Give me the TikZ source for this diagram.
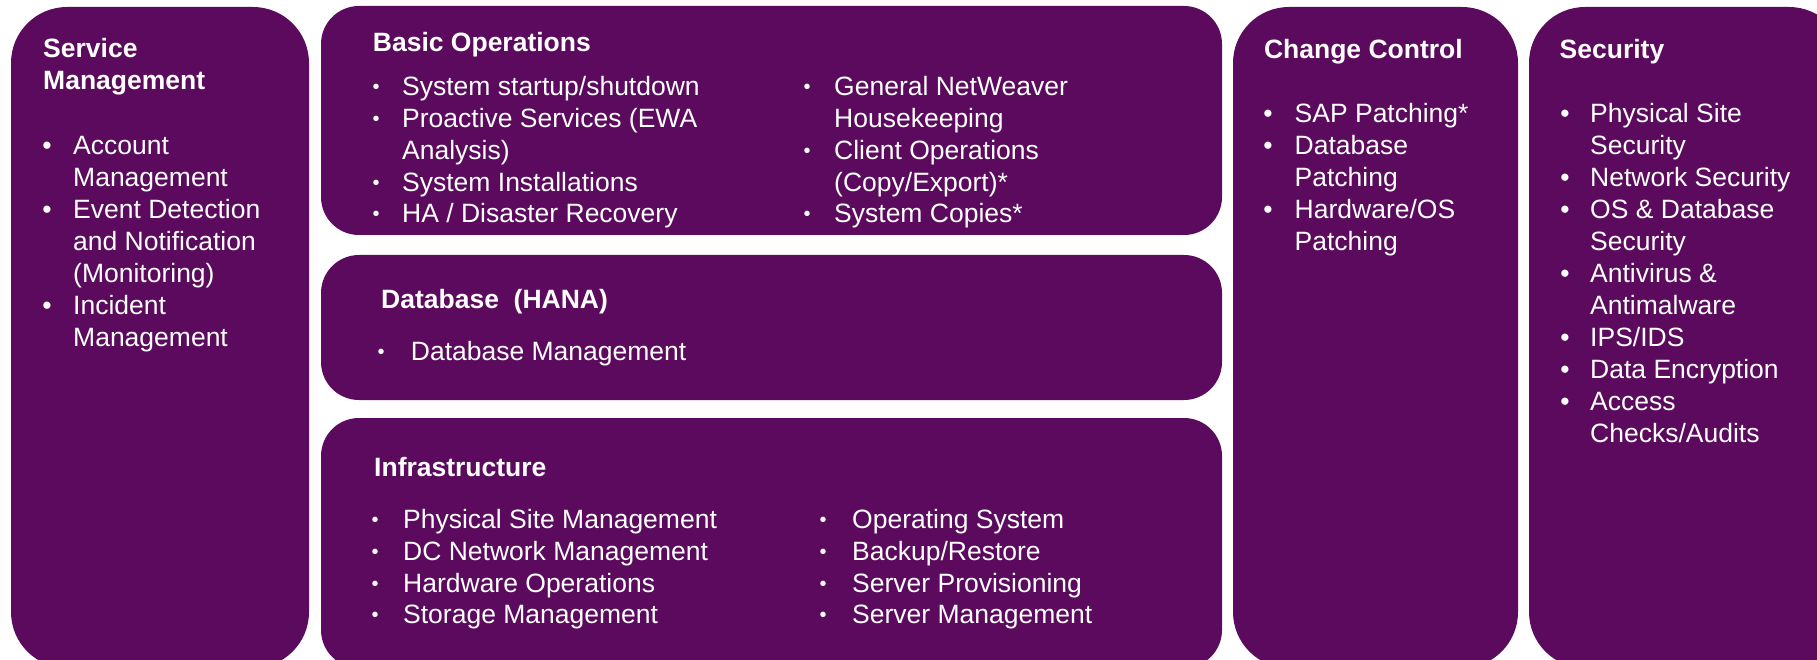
\documentclass[tikz,border=0pt]{standalone}
\usepackage{fontspec}
\setmainfont{Liberation Sans}
\definecolor{sappurple}{RGB}{91,10,94}
\begin{document}
\begin{tikzpicture}[x=1pt,y=-1pt,
  tallbox/.style={fill=sappurple, draw=none, rounded corners=56pt},
  midbox/.style={fill=sappurple, draw=none, rounded corners=38pt},
  txt/.style={text=white, inner sep=0pt, anchor=base west, font=\fontsize{26.5}{32}\selectfont},
  ttl/.style={text=white, inner sep=0pt, anchor=base west, font=\bfseries\fontsize{26.5}{32}\selectfont},
  bul/.style={text=white, inner sep=0pt, anchor=base, font=\fontsize{26.5}{32}\selectfont},
  sbul/.style={text=white, inner sep=0pt, anchor=base, font=\fontsize{20}{24}\selectfont}]
\useasboundingbox (0,0) rectangle (1817,660);
\begin{scope}
\clip (0,0) rectangle (1817,660);
\fill[tallbox] (11,7) rectangle (309,668);
\fill[midbox] (321,6) rectangle (1222,235);
\fill[midbox] (321,255) rectangle (1222,400);
\fill[midbox] (321,418) rectangle (1222,668);
\fill[tallbox] (1233,7) rectangle (1518,668);
\fill[tallbox] (1529,7) rectangle (1845,668);
\end{scope}

\begin{scope}[shift={(0,2.2)}]
% Service Management
\node[ttl] (smT1) at (43,55) {Service};
\node[ttl] (smT2) at (43,87.5) {Management};
\node[bul] (smB1) at (47,152) {•};
\node[bul] (smB2) at (47,216) {•};
\node[bul] (smB3) at (47,312) {•};
\node[txt] (sm1) at (73,152) {Account};
\node[txt] (sm2) at (73,184) {Management};
\node[txt] (sm3) at (73,216) {Event Detection};
\node[txt] (sm4) at (73,248) {and Notification};
\node[txt] (sm5) at (73,280) {(Monitoring)};
\node[txt] (sm6) at (73,312) {Incident};
\node[txt] (sm7) at (73,344) {Management};

% Basic Operations
\node[ttl] (boT) at (372.7,49) {Basic Operations};
\node[sbul] (boB1) at (376,91) {•};
\node[sbul] (boB2) at (376,123) {•};
\node[sbul] (boB3) at (376,187) {•};
\node[sbul] (boB4) at (376,218.5) {•};
\node[txt] (bo1) at (402,93) {System startup/shutdown};
\node[txt] (bo2) at (402,125) {Proactive Services (EWA};
\node[txt] (bo3) at (402,157) {Analysis)};
\node[txt] (bo4) at (402,189) {System Installations};
\node[txt] (bo5) at (402,220.5) {HA / Disaster Recovery};
\node[sbul] (boB5) at (807,91) {•};
\node[sbul] (boB6) at (807,155) {•};
\node[sbul] (boB7) at (807,218.5) {•};
\node[txt] (bo6) at (834,93) {General NetWeaver};
\node[txt] (bo7) at (834,125) {Housekeeping};
\node[txt] (bo8) at (834,157) {Client Operations};
\node[txt] (bo9) at (834,189) {(Copy/Export)*};
\node[txt] (bo10) at (834,220.5) {System Copies*};

% Database
\node[ttl] (dbT) at (381,306.7) {Database\ \ (HANA)};
\node[sbul] (dbB1) at (381,356) {•};
\node[txt] (db1) at (410.7,358) {Database Management};

% Infrastructure
\node[ttl] (inT) at (374,474) {Infrastructure};
\node[sbul] (inB1) at (375,524) {•};
\node[sbul] (inB2) at (375,556) {•};
\node[sbul] (inB3) at (375,588) {•};
\node[sbul] (inB4) at (375,619) {•};
\node[txt] (in1) at (403,526) {Physical Site Management};
\node[txt] (in2) at (403,558) {DC Network Management};
\node[txt] (in3) at (403,590) {Hardware Operations};
\node[txt] (in4) at (403,621) {Storage Management};
\node[sbul] (inB5) at (823,524) {•};
\node[sbul] (inB6) at (823,556) {•};
\node[sbul] (inB7) at (823,588) {•};
\node[sbul] (inB8) at (823,619) {•};
\node[txt] (in5) at (852,526) {Operating System};
\node[txt] (in6) at (852,558) {Backup/Restore};
\node[txt] (in7) at (852,590) {Server Provisioning};
\node[txt] (in8) at (852,621) {Server Management};

% Change Control
\node[ttl] (ccT) at (1263.8,56.7) {Change Control};
\node[bul] (ccB1) at (1268,120) {•};
\node[bul] (ccB2) at (1268,152) {•};
\node[bul] (ccB3) at (1268,216) {•};
\node[txt] (cc1) at (1294.5,120) {SAP Patching*};
\node[txt] (cc2) at (1294.5,152) {Database};
\node[txt] (cc3) at (1294.5,184) {Patching};
\node[txt] (cc4) at (1294.5,216) {Hardware/OS};
\node[txt] (cc5) at (1294.5,248) {Patching};

% Security
\node[ttl] (scT) at (1559.5,56.7) {Security};
\node[bul] (scB1) at (1565,120) {•};
\node[bul] (scB2) at (1565,184) {•};
\node[bul] (scB3) at (1565,216) {•};
\node[bul] (scB4) at (1565,280) {•};
\node[bul] (scB5) at (1565,344) {•};
\node[bul] (scB6) at (1565,376) {•};
\node[bul] (scB7) at (1565,408) {•};
\node[txt] (sc1) at (1590,120) {Physical Site};
\node[txt] (sc2) at (1590,152) {Security};
\node[txt] (sc3) at (1590,184) {Network Security};
\node[txt] (sc4) at (1590,216) {OS \& Database};
\node[txt] (sc5) at (1590,248) {Security};
\node[txt] (sc6) at (1590,280) {Antivirus \&};
\node[txt] (sc7) at (1590,312) {Antimalware};
\node[txt] (sc8) at (1590,344) {IPS/IDS};
\node[txt] (sc9) at (1590,376) {Data Encryption};
\node[txt] (sc10) at (1590,408) {Access};
\node[txt] (sc11) at (1590,440) {Checks/Audits};
\end{scope}
\end{tikzpicture}
\end{document}
